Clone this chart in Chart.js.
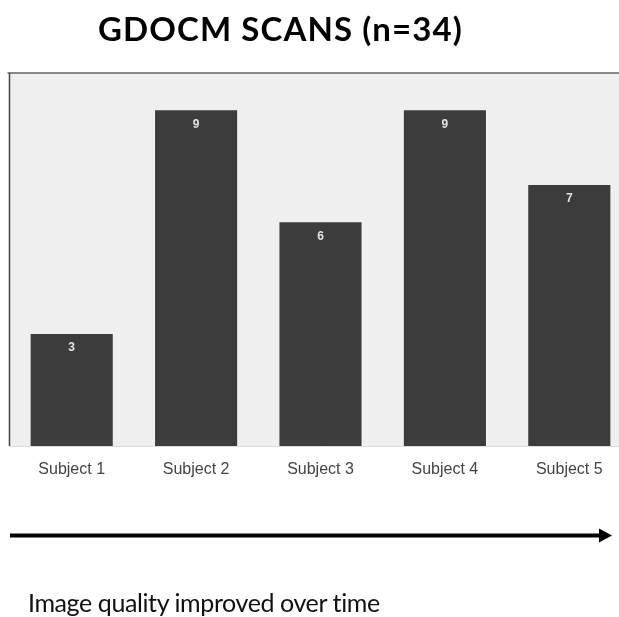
<!DOCTYPE html>
<html>
<head>
<meta charset="utf-8">
<script src="https://cdn.jsdelivr.net/npm/chart.js@4"></script>
<style>
  html, body { margin: 0; padding: 0; background: #fff; width: 619px; height: 617px; overflow: hidden; position: relative; }
  #wrap { position: absolute; left: 0; top: 0; width: 640px; height: 617px; }
  #title { position: absolute; left: 98px; top: 8.4px; font-family: Lato, "Open Sans", sans-serif; font-weight: bold; font-size: 33px; letter-spacing: 1.1px; color: #000; white-space: nowrap; line-height: normal; }
  #note { position: absolute; left: 28px; top: 586.5px; font-family: Lato, "Open Sans", sans-serif; font-size: 25px; letter-spacing: -0.4px; color: #111; white-space: nowrap; line-height: normal; }
  #arrow { position: absolute; left: 0; top: 520px; }
</style>
</head>
<body>
<div id="wrap"><canvas id="c" width="640" height="617"></canvas></div>
<div id="title">GDOCM SCANS (n=34)</div>
<svg id="arrow" width="619" height="30">
  <line x1="10" y1="15.5" x2="602" y2="15.5" stroke="#000" stroke-width="4"/>
  <polygon points="599,8.5 612,15.5 599,22.5" fill="#000"/>
</svg>
<div id="note">Image quality improved over time</div>
<script>
const categories = ["Subject 1", "Subject 2", "Subject 3", "Subject 4", "Subject 5"];
const scans = [3, 9, 6, 9, 7];
const yMax = 10;

const panelPlugin = {
  id: 'panel',
  beforeDatasetsDraw(chart) {
    const {ctx, chartArea: a} = chart;
    ctx.save();
    ctx.fillStyle = '#efefef';
    ctx.fillRect(a.left, a.top, a.right - a.left, a.bottom - a.top);
    ctx.strokeStyle = '#888';
    ctx.lineWidth = 2;
    ctx.beginPath();
    ctx.moveTo(a.left - 2, a.top);
    ctx.lineTo(a.right, a.top);
    ctx.stroke();
    ctx.strokeStyle = '#444';
    ctx.lineWidth = 1.5;
    ctx.beginPath();
    ctx.moveTo(a.left, a.top);
    ctx.lineTo(a.left, a.bottom);
    ctx.stroke();
    ctx.strokeStyle = '#dcdcdc';
    ctx.lineWidth = 1;
    ctx.beginPath();
    ctx.moveTo(a.left, a.bottom + 0.5);
    ctx.lineTo(a.right, a.bottom + 0.5);
    ctx.stroke();
    ctx.restore();
  },
  afterDatasetsDraw(chart) {
    const {ctx} = chart;
    const meta = chart.getDatasetMeta(0);
    ctx.save();
    ctx.fillStyle = '#e2e2e2';
    ctx.font = 'bold 12px "Liberation Sans", Arial, sans-serif';
    ctx.textAlign = 'center';
    ctx.textBaseline = 'middle';
    meta.data.forEach((bar, i) => {
      ctx.fillText(String(scans[i]), bar.x, bar.y + 14);
    });
    ctx.restore();
  }
};

new Chart(document.getElementById('c'), {
  type: 'bar',
  data: {
    labels: categories,
    datasets: [{
      data: scans,
      backgroundColor: '#3c3c3c',
      borderWidth: 0,
      categoryPercentage: 1,
      barPercentage: 0.66
    }]
  },
  options: {
    responsive: false,
    animation: false,
    layout: { padding: { left: 9.5, right: 8.5, top: 73, bottom: 121 } },
    plugins: { legend: { display: false }, title: { display: false }, tooltip: { enabled: false } },
    scales: {
      x: {
        grid: { display: false },
        border: { display: false },
        ticks: { color: '#444', padding: 6, font: { family: '"Liberation Sans", Arial, sans-serif', size: 16 } },
        afterFit(scale) { scale.height = 50; }
      },
      y: {
        display: false,
        min: 0,
        max: yMax
      }
    }
  },
  plugins: [panelPlugin]
});
</script>
</body>
</html>
